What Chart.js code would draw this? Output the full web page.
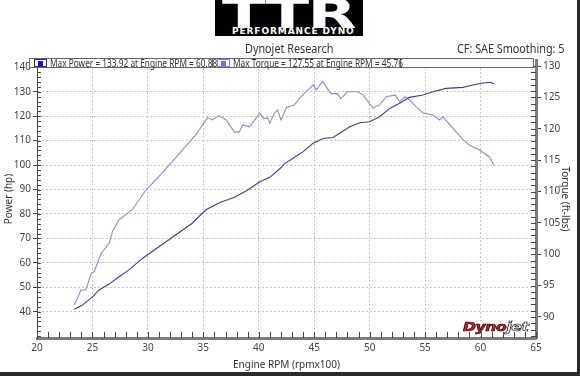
<!DOCTYPE html>
<html>
<head>
<meta charset="utf-8">
<script src="https://cdn.jsdelivr.net/npm/chart.js@4.4.1/dist/chart.umd.min.js"></script>
<style>
    html, body { margin: 0; padding: 0; background: #fff; }
    #wrap { position: relative; width: 580px; height: 376px; overflow: hidden; font-family: 'Noto Sans', sans-serif; }
    #dyno { position: absolute; left: 0; top: 0; }
    #logo { position: absolute; left: 215px; top: 0; width: 148px; height: 36px; background: #000; overflow: hidden; }
    #logo .ttr { position: absolute; left: 7px; top: -6px; color: #fff; font: bold 40px 'DejaVu Sans'; line-height: 40px; letter-spacing: -1px; transform: scaleX(1.6); transform-origin: 0 0; }
    #logo .pd { position: absolute; left: 17px; top: 27px; color: #fff; font: bold 9px 'DejaVu Sans'; line-height: 9px; letter-spacing: 0.9px; }
    .hdr { position: absolute; top: 40px; font-size: 12px; color: #333; white-space: nowrap; transform: scaleX(0.9); transform-origin: 0 0; }
    #legend { position: absolute; left: 29px; top: 58px; width: 503px; height: 8px; border: 1px solid #666; background: #fff; font-size: 10px; line-height: 8px; color: #333; white-space: nowrap; }
    .item { position: absolute; top: 0; height: 8px; border-right: 1px solid #666; }
    .sw { position: absolute; left: 4px; top: 0; width: 11px; height: 6px; border: 1px solid; }
    .sw i { position: absolute; left: 3px; top: 0.5px; width: 5px; height: 5px; }
    .item span { position: absolute; left: 20px; top: 0; transform: scaleX(0.83); transform-origin: 0 0; }
    #dynojet { position: absolute; left: 463px; top: 320px; font: italic bold 12px 'DejaVu Sans'; letter-spacing: -0.3px; -webkit-text-stroke: 0.6px #000; transform: scaleX(1.3); transform-origin: 0 0; }
    #frameR { position: absolute; right: 0; top: 0; width: 3px; height: 376px; background: #2b2b2b; }
    #frameB { position: absolute; left: 0; bottom: 0; width: 580px; height: 4px; background: #2b2b2b; }
</style>
</head>
<body>
<div id="wrap">
    <canvas id="dyno" width="580" height="376"></canvas>
    <div id="logo"><div class="ttr">TTR</div><div class="pd">PERFORMANCE DYNO</div></div>
    <div class="hdr" style="left:245px">Dynojet Research</div>
    <div class="hdr" style="left:457px">CF: SAE Smoothing: 5</div>
    <div id="legend">
        <div class="item" style="left:0;width:182px"><div class="sw" style="border-color:#22228a"><i style="background:#1414b4"></i></div><span>Max Power = 133.92 at Engine RPM = 60.88</span></div>
        <div class="item" style="left:183px;width:187px"><div class="sw" style="border-color:#8484d0"><i style="background:#6e6ee6"></i></div><span>Max Torque = 127.55 at Engine RPM = 45.76</span></div>
    </div>
    <div id="dynojet"><span style="color:#c8202c">Dyno</span><span style="color:#fff">jet</span></div>
    <div id="frameR"></div>
    <div id="frameB"></div>
</div>
<script>
// run data (engine rpm is in hundreds)
const powerRpm = [23.35, 24.1, 25.0, 25.6, 26.5, 27.4, 28.3, 29.5, 31.0, 32.5,
                  34.0, 35.2, 36.45, 37.8, 38.9, 40.1, 41.0, 41.9, 42.3, 43.1,
                  44.0, 44.9, 45.8, 46.7, 47.3, 48.2, 49.1, 50.0, 50.9, 51.8,
                  52.7, 53.6, 54.8, 55.7, 56.9, 58.4, 59.3, 60.2, 60.88, 61.2];
const powerHp = [41.0, 42.7, 46.1, 48.9, 51.3, 54.3, 57.1, 61.8, 66.6, 71.4,
                 76.2, 81.6, 84.6, 86.8, 89.5, 93.2, 95.0, 98.5, 100.5, 102.8,
                 105.5, 108.9, 110.9, 111.3, 113.0, 115.7, 117.3, 117.7, 119.8, 123.2,
                 125.3, 127.7, 128.7, 130.0, 131.4, 131.8, 132.8, 133.6, 133.92, 133.3];

const torqueRpm = [23.35, 23.65, 23.95, 24.4, 24.9, 25.15, 25.8, 26.5, 26.8, 27.4,
                   28.6, 29.8, 31.0, 32.2, 33.1, 34.3, 35.4, 35.8, 36.45, 37.05,
                   37.8, 38.25, 38.55, 39.15, 40.1, 40.4, 40.8, 41.0, 41.4, 41.7,
                   42.0, 42.5, 43.2, 43.8, 44.9, 45.2, 45.76, 46.5, 47.1, 47.4,
                   48.0, 48.9, 49.4, 50.3, 50.9, 51.5, 52.3, 52.7, 53.2, 53.6,
                   54.2, 54.8, 55.7, 56.3, 56.6, 57.5, 58.45, 59.0, 59.9, 60.8, 61.2];
const torqueFtLb = [91.9, 93.0, 94.3, 94.3, 97.0, 97.2, 100.2, 101.7, 103.6, 105.5,
                    107.1, 110.2, 112.4, 114.75, 116.6, 119.0, 121.8, 121.4, 122.1, 121.4,
                    119.5, 119.5, 120.6, 120.3, 122.5, 121.7, 121.7, 120.9, 122.5, 123.0,
                    121.4, 123.4, 123.8, 125.1, 127.0, 126.2, 127.55, 125.6, 125.6, 124.8,
                    125.9, 125.9, 125.4, 123.3, 123.8, 125.1, 125.4, 124.3, 125.1, 124.6,
                    123.5, 122.5, 122.2, 121.4, 121.9, 120.1, 118.2, 117.4, 116.6, 115.5, 114.2];

const rpmTicks = [20, 25, 30, 35, 40, 45, 50, 55, 60, 65];
const powerTicks = [40, 50, 60, 70, 80, 90, 100, 110, 120, 130, 140];
const torqueTicks = [90, 95, 100, 105, 110, 115, 120, 125, 130];

const tickFont = { family: 'Noto Sans', size: 10 };
const titleFont = { family: 'Noto Sans', size: 10 };

// small ruler ticks along the three axes
const rulerTicks = {
    id: 'rulerTicks',
    afterDraw(chart) {
        const { ctx, chartArea: a, scales } = chart;
        ctx.save();
        ctx.strokeStyle = '#444';
        ctx.lineWidth = 1;
        ctx.beginPath();
        for (let v = Math.ceil(scales.x.min); v <= scales.x.max; v++) {
            const x = Math.round(scales.x.getPixelForValue(v)) + 0.5;
            ctx.moveTo(x, a.bottom); ctx.lineTo(x, a.bottom - 6);
        }
        for (let v = Math.ceil(scales.y.min / 2) * 2; v <= scales.y.max; v += 2) {
            const y = Math.round(scales.y.getPixelForValue(v)) + 0.5;
            ctx.moveTo(a.left, y); ctx.lineTo(a.left + 4, y);
        }
        for (let v = Math.ceil(scales.y1.min); v <= scales.y1.max; v++) {
            const y = Math.round(scales.y1.getPixelForValue(v)) + 0.5;
            ctx.moveTo(a.right, y); ctx.lineTo(a.right - 5, y);
        }
        ctx.stroke();
        ctx.restore();
    }
};

const setTicks = list => scale => { scale.ticks = list.map(v => ({ value: v })); };

new Chart(document.getElementById('dyno'), {
    type: 'line',
    data: {
        datasets: [{
            label: 'Power',
            data: powerRpm.map((r, i) => ({ x: r, y: powerHp[i] })),
            yAxisID: 'y',
            borderColor: '#3d3d86',
            borderWidth: 1.1,
            pointRadius: 0,
            tension: 0
        }, {
            label: 'Torque',
            data: torqueRpm.map((r, i) => ({ x: r, y: torqueFtLb[i] })),
            yAxisID: 'y1',
            borderColor: '#8c8cc2',
            borderWidth: 1.1,
            pointRadius: 0,
            tension: 0
        }]
    },
    options: {
        responsive: false,
        animation: false,
        layout: { padding: { top: 60, left: 0, right: 0, bottom: 0 } },
        plugins: { legend: { display: false }, tooltip: { enabled: false } },
        scales: {
            x: {
                type: 'linear', min: 20, max: 65,
                afterBuildTicks: setTicks(rpmTicks),
                afterFit: s => { s.height = 38; },
                grid: { color: '#c4c4c4', drawTicks: false },
                border: { color: '#7c7c7c', width: 3, dash: [2, 2] },
                ticks: { padding: 4, font: tickFont, color: '#444', maxRotation: 0 },
                title: { display: true, text: 'Engine RPM (rpmx100)', font: titleFont, color: '#333', padding: { top: 0, bottom: 5 } }
            },
            y: {
                position: 'left', min: 29.24, max: 143,
                afterBuildTicks: setTicks(powerTicks),
                afterFit: s => { s.width = 37; },
                grid: { color: '#c4c4c4', tickColor: '#444', tickLength: 4 },
                border: { color: '#444', width: 1, dash: [2, 2] },
                ticks: { padding: 2, font: tickFont, color: '#444' },
                title: { display: true, text: 'Power (hp)', font: titleFont, color: '#333', padding: { top: 3, bottom: 0 } }
            },
            y1: {
                position: 'right', min: 86.65, max: 130.96,
                afterBuildTicks: setTicks(torqueTicks),
                afterFit: s => { s.width = 44; },
                grid: { drawOnChartArea: false, tickColor: '#444', tickLength: 5 },
                border: { color: '#7c7c7c', width: 3 },
                ticks: { padding: 2, font: tickFont, color: '#444' },
                title: { display: true, text: 'Torque (ft-lbs)', font: titleFont, color: '#333', padding: { top: 9, bottom: 0 } }
            }
        }
    },
    plugins: [rulerTicks]
});
</script>
</body>
</html>
